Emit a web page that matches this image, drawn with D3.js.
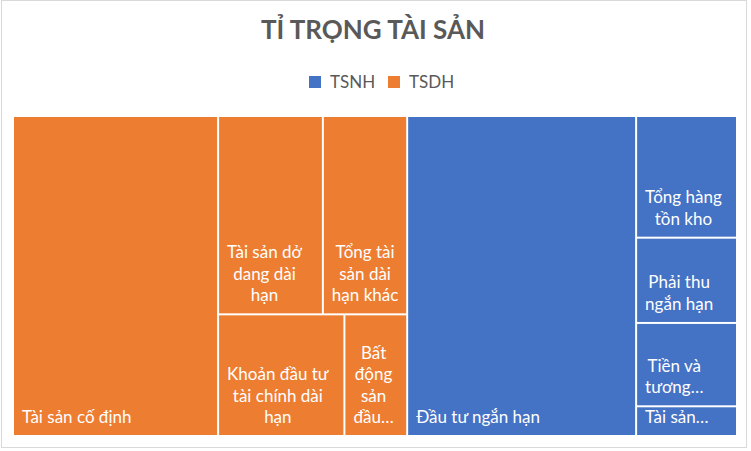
<!DOCTYPE html>
<html>
<head>
<meta charset="utf-8">
<script src="https://cdn.jsdelivr.net/npm/d3@7"></script>
<style>
  body { margin: 0; background: #fff; }
</style>
</head>
<body>
<svg id="chart" width="751" height="451"></svg>
<script>
// groups and leaves
const groups = ["TSNH", "TSDH"]
const groupColors = ["#4472C4", "#ED7D31"]

const tsnhNames = ["Đầu tư ngắn hạn", "Tổng hàng tồn kho", "Phải thu ngắn hạn", "Tiền và tương đương tiền", "Tài sản ngắn hạn khác"]
const tsnhValues = [75.8, 12.7, 8.9, 8.7, 3.1]

const tsdhNames = ["Tài sản cố định", "Tài sản dở dang dài hạn", "Tổng tài sản dài hạn khác", "Khoản đầu tư tài chính dài hạn", "Bất động sản đầu tư"]
const tsdhValues = [67.9, 21.5, 17.3, 15.9, 7.9]

const font = "Lato, 'Noto Sans', sans-serif"
const textColor = "#595959"
const fontSize = 17
const lineHeight = 21.5
const pad = 7

const color = d3.scaleOrdinal().domain(groups).range(groupColors)

const data = {
  name: "root",
  children: [
    { name: "TSNH", children: tsnhNames.map((n, i) => ({ name: n, value: tsnhValues[i] })) },
    { name: "TSDH", children: tsdhNames.map((n, i) => ({ name: n, value: tsdhValues[i] })) }
  ]
}

const svg = d3.select("#chart")

// chart border
svg.append("rect")
  .attr("x", 1.5).attr("y", 0.5)
  .attr("width", 745).attr("height", 447)
  .attr("fill", "#fff")
  .attr("stroke", "#d9d9d9")

// title
svg.append("text")
  .attr("x", 373).attr("y", 39)
  .attr("text-anchor", "middle")
  .attr("font-family", font)
  .attr("font-size", 26)
  .attr("font-weight", "bold")
  .attr("fill", textColor)
  .text("TỈ TRỌNG TÀI SẢN")

// legend
const legend = svg.append("g").attr("font-family", font).attr("font-size", 17).attr("fill", textColor)
groups.forEach((g, i) => {
  const x = 309 + i * 79
  legend.append("rect")
    .attr("x", x).attr("y", 76)
    .attr("width", 12).attr("height", 12)
    .attr("fill", color(g))
  legend.append("text")
    .attr("x", x + 21).attr("y", 88)
    .text(g)
})

// treemap
const root = d3.hierarchy(data)
  .sum(d => d.value || 0)
  .sort((a, b) => b.value - a.value)

d3.treemap()
  .tile(d3.treemapSquarify.ratio(1.3))
  .size([722, 318])
  .paddingInner(2)(root)

const gMap = svg.append("g").attr("transform", "translate(14,117)")

const leaf = gMap.selectAll("g")
  .data(root.leaves())
  .join("g")

leaf.append("rect")
  .attr("x", d => d.x0)
  .attr("y", d => d.y0)
  .attr("width", d => d.x1 - d.x0)
  .attr("height", d => d.y1 - d.y0)
  .attr("fill", d => color(d.parent.data.name))

// measuring helper
const measurer = svg.append("text")
  .attr("font-family", font)
  .attr("font-size", fontSize)
  .attr("visibility", "hidden")
const textWidth = s => measurer.text(s).node().getComputedTextLength()

function wrap(label, maxW, maxLines) {
  const words = label.split(" ")
  const lines = []
  let cur = ""
  for (const w of words) {
    const test = cur ? cur + " " + w : w
    if (cur && textWidth(test) > maxW) {
      lines.push(cur)
      cur = w
    } else {
      cur = test
    }
  }
  if (cur) lines.push(cur)
  if (lines.length > maxLines) {
    const kept = lines.slice(0, maxLines)
    let last = kept[maxLines - 1]
    while (last.length > 1 && textWidth(last + "…") > maxW) last = last.slice(0, -1)
    kept[maxLines - 1] = last + "…"
    return kept
  }
  return lines
}

leaf.each(function(d) {
  const w = d.x1 - d.x0
  const h = d.y1 - d.y0
  const maxLines = Math.max(1, Math.floor((h - 24) / lineHeight))
  const lines = wrap(d.data.name, w - 2 * pad + 1, maxLines)
  const blockW = d3.max(lines, textWidth)
  const cx = d.x0 + pad + 1 + blockW / 2
  const base = d.y1 - 12
  const t = d3.select(this).append("text")
    .attr("font-family", font)
    .attr("font-size", fontSize)
    .attr("fill", "#fff")
    .attr("text-anchor", "middle")
  lines.forEach((line, i) => {
    t.append("tspan")
      .attr("x", cx)
      .attr("y", base - (lines.length - 1 - i) * lineHeight)
      .text(line)
  })
})

measurer.remove()
</script>
</body>
</html>
